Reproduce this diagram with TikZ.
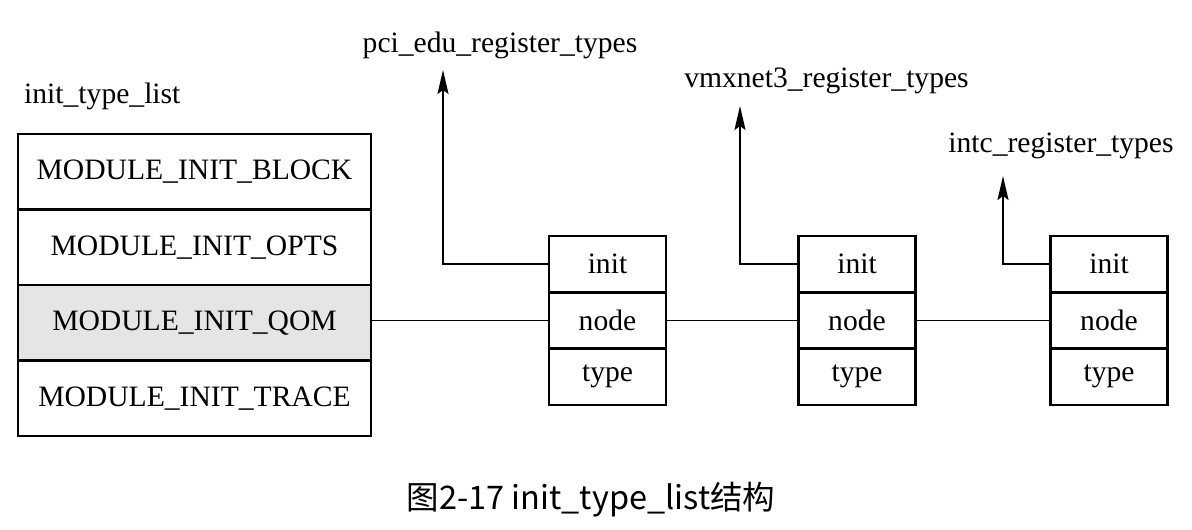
\documentclass[tikz,border=0pt]{standalone}
\usepackage{fontspec}
\setmainfont{Liberation Serif}
\newfontfamily\cjk{Noto Sans CJK SC}
\usetikzlibrary{arrows.meta}
\begin{document}
\begin{tikzpicture}[x=1pt,y=-1pt,
  txt/.style={font=\fontsize{29.6}{32}\selectfont, inner sep=0pt},
  bigcell/.style={draw=black, line width=2.4pt, minimum width=353pt, minimum height=75.5pt, inner sep=0pt, font=\fontsize{29.6}{32}\selectfont},
  cell/.style={draw=black, line width=2.4pt, minimum width=117pt, minimum height=56.3pt, inner sep=0pt, font=\fontsize{29.6}{32}\selectfont},
  link/.style={line width=1.4pt},
  ptr/.style={line width=2pt, -{Stealth[length=24pt,width=11pt,inset=4pt]}}
]
\useasboundingbox (0,0) rectangle (1192,530);

\node[txt, anchor=base west] (title) at (24,103) {init\_type\_list};
\node[bigcell] (blk) at (194.5,171.75) {MODULE\_INIT\_BLOCK};
\node[bigcell] (opts) at (194.5,247.25) {MODULE\_INIT\_OPTS};
\node[bigcell, fill=black!10] (qom) at (194.5,322.75) {MODULE\_INIT\_QOM};
\node[bigcell] (trace) at (194.5,398.25) {MODULE\_INIT\_TRACE};

\foreach \n/\x in {a/607.5, b/857, c/1109}{
  \node[cell] (\n init) at (\x,264.2) {init};
  \node[cell] (\n node) at (\x,320.5) {node};
  \node[cell] (\n type) at (\x,376.8) {type};
}

\node[txt, anchor=base] (la) at (500,52) {pci\_edu\_register\_types};
\node[txt, anchor=base] (lb) at (826.5,87) {vmxnet3\_register\_types};
\node[txt, anchor=base] (lc) at (1061,152) {intc\_register\_types};

\coordinate (ta) at (443,70);
\coordinate (tb) at (740,106);
\coordinate (tc) at (1003,176);

\draw[ptr] (ainit.west) -| (ta);
\draw[ptr] (binit.west) -| (tb);
\draw[ptr] (cinit.west) -| (tc);

\draw[link] (anode.west -| qom.east) -- (anode.west);
\draw[link] (anode.east) -- (bnode.west);
\draw[link] (bnode.east) -- (cnode.west);

\node[inner sep=0pt, anchor=base, font=\cjk\fontsize{32.5}{36}\selectfont] (cap) at (591,509) {图2-17 init\_type\_list结构};
\end{tikzpicture}
\end{document}
